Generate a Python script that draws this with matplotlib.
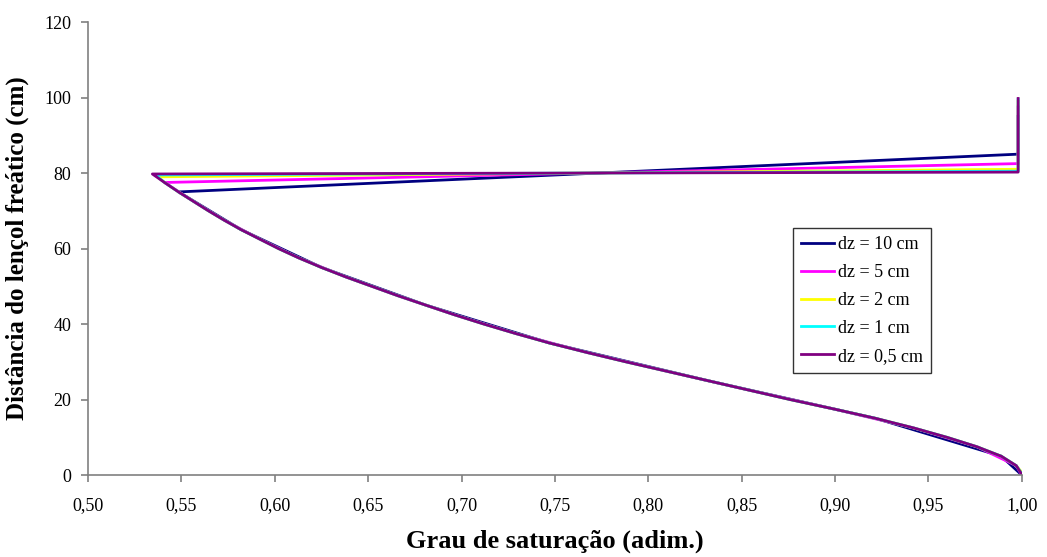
import matplotlib
matplotlib.use("Agg")
import matplotlib.pyplot as plt
from matplotlib.ticker import FuncFormatter

plt.rcParams['font.family'] = ['Liberation Serif', 'DejaVu Serif']

# Saturation profiles: distance above the water table (cm) and saturation degree
labels = ["dz = 10 cm", "dz = 5 cm", "dz = 2 cm", "dz = 1 cm", "dz = 0,5 cm"]
colors = ["#000080", "#FF00FF", "#FFFF00", "#00FFFF", "#800080"]

z_dz10 = [0, 5, 15, 25, 35, 45, 55, 65, 75, 85, 95]
s_dz10 = [1.000, 0.989, 0.922, 0.832, 0.747, 0.681, 0.625, 0.582, 0.5485, 0.998, 0.998]

z_dz5 = [0, 2.5, 7.5, 12.5, 17.5, 22.5, 27.5, 32.5, 37.5, 42.5, 47.5, 52.5,
         57.5, 62.5, 67.5, 72.5, 77.5, 82.5, 87.5, 92.5, 97.5]
s_dz5 = [1.000, 0.997, 0.976, 0.942, 0.8995, 0.854, 0.810, 0.767, 0.729, 0.696,
         0.666, 0.638, 0.613, 0.592, 0.573, 0.5565, 0.541, 0.998, 0.998, 0.998, 0.998]

z_dz2 = [0, 1, 2.5, 5, 7.5, 10, 12.5, 15, 17.5, 20, 22.5, 25, 27.5, 30, 32.5,
         35, 37.5, 40, 42.5, 45, 47.5, 50, 52.5, 55, 57.5, 60, 62.5, 65, 67.5,
         70, 72.5, 75, 77.5, 79, 81, 99]
s_dz2 = [1.000, 0.9995, 0.997, 0.989, 0.976, 0.960, 0.942, 0.922, 0.8995, 0.876,
         0.854, 0.832, 0.810, 0.788, 0.767, 0.747, 0.729, 0.712, 0.696, 0.681,
         0.666, 0.652, 0.638, 0.625, 0.613, 0.602, 0.592, 0.582, 0.573, 0.5645,
         0.5565, 0.5485, 0.541, 0.5375, 0.998, 0.998]

z_dz1 = [0, 0.5, 2.5, 5, 7.5, 10, 12.5, 15, 17.5, 20, 22.5, 25, 27.5, 30, 32.5,
         35, 37.5, 40, 42.5, 45, 47.5, 50, 52.5, 55, 57.5, 60, 62.5, 65, 67.5,
         70, 72.5, 75, 77.5, 79.5, 80.5, 99.5]
s_dz1 = [1.000, 0.9998, 0.997, 0.989, 0.976, 0.960, 0.942, 0.922, 0.8995, 0.876,
         0.854, 0.832, 0.810, 0.788, 0.767, 0.747, 0.729, 0.712, 0.696, 0.681,
         0.666, 0.652, 0.638, 0.625, 0.613, 0.602, 0.592, 0.582, 0.573, 0.5645,
         0.5565, 0.5485, 0.541, 0.536, 0.998, 0.998]

z_dz05 = [0, 0.25, 2.5, 5, 7.5, 10, 12.5, 15, 17.5, 20, 22.5, 25, 27.5, 30, 32.5,
          35, 37.5, 40, 42.5, 45, 47.5, 50, 52.5, 55, 57.5, 60, 62.5, 65, 67.5,
          70, 72.5, 75, 77.5, 79.75, 80.25, 99.75]
s_dz05 = [1.000, 0.9999, 0.997, 0.989, 0.976, 0.960, 0.942, 0.922, 0.8995, 0.876,
          0.854, 0.832, 0.810, 0.788, 0.767, 0.747, 0.729, 0.712, 0.696, 0.681,
          0.666, 0.652, 0.638, 0.625, 0.613, 0.602, 0.592, 0.582, 0.573, 0.5645,
          0.5565, 0.5485, 0.541, 0.5345, 0.998, 0.998]

series = [(z_dz10, s_dz10), (z_dz5, s_dz5), (z_dz2, s_dz2), (z_dz1, s_dz1), (z_dz05, s_dz05)]

x_ticks = [0.50, 0.55, 0.60, 0.65, 0.70, 0.75, 0.80, 0.85, 0.90, 0.95, 1.00]
y_ticks = [0, 20, 40, 60, 80, 100, 120]

fig = plt.figure(figsize=(10.47, 5.57), dpi=100)
ax = fig.add_axes([0.084, 0.147, 0.892, 0.8135])

for (z, s), lab, c in zip(series, labels, colors):
    ax.plot(s, z, color=c, lw=2.0, label=lab)

ax.set_xlim(0.50, 1.00)
ax.set_ylim(0, 120)
ax.set_xticks(x_ticks)
ax.set_yticks(y_ticks)
ax.xaxis.set_major_formatter(FuncFormatter(lambda v, p: f"{v:.2f}".replace(".", ",")))
ax.yaxis.set_major_formatter(FuncFormatter(lambda v, p: f"{v:.0f}"))

for side in ("top", "right"):
    ax.spines[side].set_visible(False)
for side in ("left", "bottom"):
    ax.spines[side].set_color("#808080")
    ax.spines[side].set_linewidth(1.2)
ax.tick_params(axis="both", direction="out", length=5, width=1.2, color="#808080",
               labelsize=13, labelcolor="black")
ax.tick_params(axis="y", pad=7)
ax.tick_params(axis="x", pad=11)

ax.set_xlabel("Grau de saturação (adim.)", fontsize=19, fontweight="bold", labelpad=11)
ax.set_ylabel("Distância do lençol freático (cm)", fontsize=18, fontweight="bold", labelpad=11)

leg = ax.legend(loc="upper left", bbox_to_anchor=(0.755, 0.545), frameon=True,
                fancybox=False, edgecolor="black", fontsize=13, handlelength=1.8,
                borderpad=0.45, labelspacing=0.6, handletextpad=0.25, borderaxespad=0)
leg.get_frame().set_linewidth(1.0)

fig.savefig("out.png", dpi=100, facecolor="white")
